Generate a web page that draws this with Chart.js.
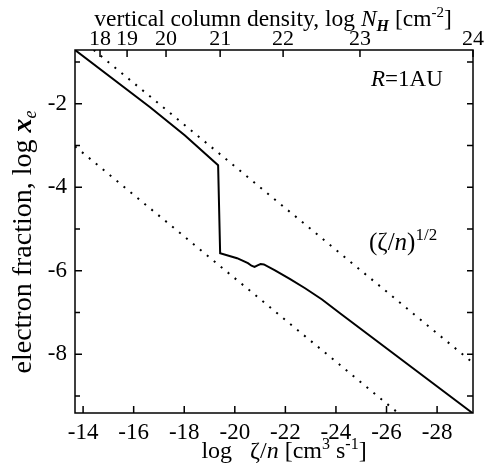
<!DOCTYPE html>
<html>
<head>
<meta charset="utf-8">
<script src="https://cdn.jsdelivr.net/npm/chart.js@4"></script>
<style>
  html, body { margin: 0; padding: 0; background: #fff; }
  canvas { display: block; }
</style>
</head>
<body>
<canvas id="chart" width="485" height="474"></canvas>
<script>
// axis ranges (log zeta/n is drawn reversed: -14 on the left)
const xRange = [-29.42, -13.68];
const yRange = [-9.41, -0.71];

// tick values
const xTicks = [-14, -16, -18, -20, -22, -24, -26, -28];
const yTicks = [-2, -4, -6, -8];
const yMinor = [-1, -3, -5, -7, -9];
const topTickLabels = ['18', '19', '20', '21', '22', '23', '24'];
const topTickPos = [-14.67, -15.74, -17.28, -19.42, -21.91, -24.95, -29.42];

// electron fraction curve, R = 1 AU
const curveX = [-13.68, -16.65, -18.03, -19.34, -19.42, -20.09, -20.52, -20.66, -20.78, -20.90, -21.02, -21.15, -21.59, -22.19, -22.78, -23.45, -24.16, -29.42];
const curveY = [-0.71, -2.08, -2.76, -3.47, -5.58, -5.70, -5.82, -5.88, -5.91, -5.87, -5.84, -5.85, -5.99, -6.20, -6.42, -6.69, -7.02, -9.42];

// (zeta/n)^(1/2) reference lines
const upperX = [-14.42, -29.42];
const upperY = [-0.71, -8.21];
const lowerX = [-13.68, -26.46];
const lowerY = [-3.02, -9.41];

const SERIF = '"Liberation Serif", "DejaVu Serif", serif';
const FS = 23;

function pts(xs, ys) {
  return xs.map((x, i) => ({x: x, y: ys[i]}));
}

// draw a line of mixed fonts / super- and subscripts
function richText(ctx, runs, x, y, align) {
  let w = 0;
  runs.forEach(r => { ctx.font = r.font; w += ctx.measureText(r.t).width; });
  let cx = align === 'center' ? x - w / 2 : (align === 'right' ? x - w : x);
  ctx.textAlign = 'left';
  ctx.textBaseline = 'alphabetic';
  runs.forEach(r => {
    ctx.font = r.font;
    ctx.fillText(r.t, cx, y + (r.dy || 0));
    cx += ctx.measureText(r.t).width;
  });
}

function f(size, style) {
  return (style ? style + ' ' : '') + size + 'px ' + SERIF;
}

const framePlugin = {
  id: 'frame',
  afterDraw(chart) {
    const ctx = chart.ctx;
    const a = chart.chartArea;
    const sx = chart.scales.x, sy = chart.scales.y, st = chart.scales.x2;
    ctx.save();
    ctx.strokeStyle = '#000';
    ctx.fillStyle = '#000';
    ctx.lineWidth = 1.5;
    ctx.strokeRect(a.left, a.top, a.right - a.left, a.bottom - a.top);

    ctx.beginPath();
    xTicks.forEach(v => {
      const px = sx.getPixelForValue(v);
      ctx.moveTo(px, a.bottom); ctx.lineTo(px, a.bottom - 7);
    });
    topTickPos.forEach(v => {
      const px = st.getPixelForValue(v);
      ctx.moveTo(px, a.top); ctx.lineTo(px, a.top + 7);
    });
    yTicks.forEach(v => {
      const py = sy.getPixelForValue(v);
      ctx.moveTo(a.left, py); ctx.lineTo(a.left + 7, py);
      ctx.moveTo(a.right, py); ctx.lineTo(a.right - 6, py);
    });
    yMinor.forEach(v => {
      const py = sy.getPixelForValue(v);
      ctx.moveTo(a.left, py); ctx.lineTo(a.left + 5, py);
      ctx.moveTo(a.right, py); ctx.lineTo(a.right - 6, py);
    });
    ctx.stroke();

    // labels inside the plot
    richText(ctx, [
      {t: 'R', font: f(23, 'italic')}, {t: '=1AU', font: f(23)}
    ], 371, 86, 'left');
    richText(ctx, [
      {t: '(\u03B6/', font: f(25)}, {t: 'n', font: f(25, 'italic')}, {t: ')', font: f(25)},
      {t: '1/2', font: f(17), dy: -10}
    ], 369, 250, 'left');

    // axis titles
    richText(ctx, [
      {t: 'vertical column density, log ', font: f(23.5)},
      {t: 'N', font: f(23.5, 'italic')},
      {t: 'H', font: f(16, 'bold italic'), dy: 5},
      {t: ' [cm', font: f(23.5)},
      {t: '-2', font: f(15), dy: -9},
      {t: ']', font: f(23.5)}
    ], 273, 26, 'center');
    richText(ctx, [
      {t: 'log   \u03B6/', font: f(24)},
      {t: 'n', font: f(24, 'italic')},
      {t: ' [cm', font: f(24)},
      {t: '3', font: f(16), dy: -9},
      {t: ' s', font: f(24)},
      {t: '-1', font: f(16), dy: -9},
      {t: ']', font: f(24)}
    ], 284, 458, 'center');
    ctx.translate(31, 242);
    ctx.rotate(-Math.PI / 2);
    richText(ctx, [
      {t: 'electron fraction, log ', font: f(28)},
      {t: 'x', font: f(28, 'bold italic')},
      {t: 'e', font: f(18, 'italic'), dy: 5}
    ], 0, 0, 'center');
    ctx.restore();
  }
};

const tickFont = {family: SERIF, size: FS};

chart = new Chart(document.getElementById('chart'), {
  type: 'scatter',
  data: {
    datasets: [
      {data: pts(curveX, curveY), showLine: true, borderColor: '#000', borderWidth: 2, pointRadius: 0, tension: 0},
      {data: pts(upperX, upperY), showLine: true, borderColor: '#000', borderWidth: 2, borderDash: [2, 7], pointRadius: 0},
      {data: pts(lowerX, lowerY), showLine: true, borderColor: '#000', borderWidth: 2, borderDash: [2, 7], pointRadius: 0}
    ]
  },
  options: {
    responsive: false,
    animation: false,
    layout: {padding: 0},
    plugins: {legend: {display: false}, tooltip: {enabled: false}},
    scales: {
      x: {
        type: 'linear', position: 'bottom', reverse: true, min: xRange[0], max: xRange[1],
        grid: {display: false, drawTicks: false}, border: {display: false},
        ticks: {font: tickFont, color: '#000', padding: 6, autoSkip: false, maxRotation: 0, callback: v => String(v)},
        afterBuildTicks: s => { s.ticks = xTicks.map(v => ({value: v})); },
        afterFit: s => { s.height = 61; }
      },
      x2: {
        type: 'linear', position: 'top', reverse: true, min: xRange[0], max: xRange[1],
        grid: {display: false, drawTicks: false}, border: {display: false},
        ticks: {font: {family: SERIF, size: 22}, color: '#000', padding: -2, autoSkip: false, maxRotation: 0, callback: (v, i) => topTickLabels[i]},
        afterBuildTicks: s => { s.ticks = topTickPos.map(v => ({value: v})); },
        afterFit: s => { s.height = 50; }
      },
      y: {
        type: 'linear', position: 'left', min: yRange[0], max: yRange[1],
        grid: {display: false, drawTicks: false}, border: {display: false},
        ticks: {font: tickFont, color: '#000', padding: 8, callback: v => String(v)},
        afterBuildTicks: s => { s.ticks = yTicks.map(v => ({value: v})); },
        afterFit: s => { s.width = 75; }
      },
      y2: {
        type: 'linear', position: 'right', min: yRange[0], max: yRange[1],
        grid: {display: false, drawTicks: false}, border: {display: false},
        ticks: {display: false},
        afterFit: s => { s.width = 12; }
      }
    }
  },
  plugins: [framePlugin]
});
</script>
</body>
</html>
